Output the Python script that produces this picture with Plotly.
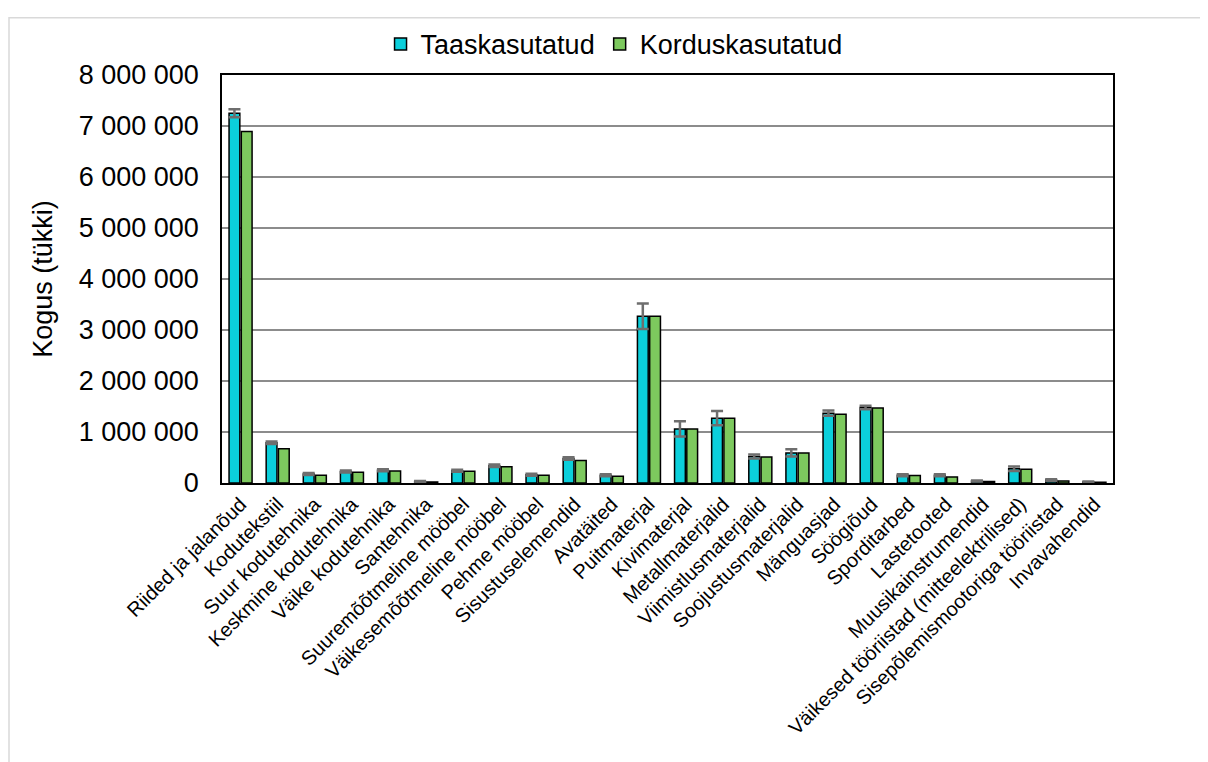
import plotly.graph_objects as go

categories = [
    "Riided ja jalanõud", "Kodutekstiil", "Suur kodutehnika", "Keskmine kodutehnika",
    "Väike kodutehnika", "Santehnika", "Suuremõõtmeline mööbel", "Väikesemõõtmeline mööbel",
    "Pehme mööbel", "Sisustuselemendid", "Avatäited", "Puitmaterjal", "Kivimaterjal",
    "Metallmaterjalid", "Viimistlusmaterjalid", "Soojustusmaterjalid", "Mänguasjad",
    "Söögiõud", "Sporditarbed", "Lastetooted", "Muusikainstrumendid",
    "Väikesed tööriistad (mitteelektrilised)", "Sisepõlemismootoriga tööriistad", "Invavahendid",
]

taaskasutatud = [
    7250000, 790000, 175000, 225000, 250000, 30000, 240000, 340000, 160000, 480000,
    150000, 3270000, 1060000, 1270000, 520000, 590000, 1370000, 1480000, 150000,
    150000, 40000, 280000, 60000, 20000,
]
taask_err = [
    80000, 25000, 20000, 20000, 20000, 10000, 20000, 25000, 20000, 25000,
    20000, 250000, 150000, 140000, 40000, 70000, 50000, 35000, 20000,
    20000, 10000, 45000, 15000, 8000,
]
korduskasutatud = [
    6890000, 670000, 150000, 210000, 235000, 20000, 230000, 320000, 150000, 440000,
    130000, 3270000, 1060000, 1270000, 510000, 590000, 1350000, 1470000, 145000,
    120000, 30000, 270000, 40000, 15000,
]

# page has an 8px body margin, so figure coords = screenshot coords - 8
W, H = 1200, 754
L, R, T, B = 214, 95, 61, 279

fig = go.Figure()
fig.add_trace(go.Bar(
    x=categories, y=taaskasutatud, name="Taaskasutatud",
    marker=dict(color="#0BCFDB", line=dict(color="#000000", width=1.5)),
    error_y=dict(type="data", array=taask_err, visible=True,
                 color="#6E6E6E", thickness=2.5, width=6),
))
fig.add_trace(go.Bar(
    x=categories, y=korduskasutatud, name="Korduskasutatud",
    marker=dict(color="#7DC95E", line=dict(color="#000000", width=1.5)),
))


def px_x(p):
    return (p - L) / (W - L - R)


def px_y(p):
    return 1 - (p - T) / (H - T - B)


# light frame around the chart (it runs off the right and bottom of the picture)
fig.add_shape(type="rect", xref="paper", yref="paper",
              x0=px_x(1), x1=px_x(1240), y0=px_y(3), y1=px_y(800),
              line=dict(color="#D9D9D9", width=1.5), layer="below")

fig.update_layout(
    width=W, height=H,
    barmode="group", bargap=0.34, bargroupgap=0.12,
    plot_bgcolor="white", paper_bgcolor="white",
    font=dict(family="Liberation Sans, Arial", color="#000000", size=20),
    separators=". ",
    margin=dict(l=L, r=R, t=T, b=B),
    legend=dict(orientation="h", x=0.44, xanchor="center", y=1.075, yanchor="middle",
                font=dict(size=27), bgcolor="rgba(0,0,0,0)", itemwidth=30,
                tracegroupgap=0),
    xaxis=dict(tickangle=-45, tickfont=dict(size=20), showline=True, linecolor="#000000",
               linewidth=1.5, mirror=True, ticks=""),
    yaxis=dict(range=[0, 8000000], dtick=1000000, tickformat=",d",
               tickfont=dict(size=27), showgrid=True, gridcolor="#8C8C8C", gridwidth=1.5,
               showline=True, linecolor="#000000", linewidth=1.5, mirror=True,
               ticks="", ticklabelstandoff=16,
               title=dict(text="Kogus (tükki)", font=dict(size=27), standoff=18),
               zeroline=False),
)

fig.write_html("out.html")
